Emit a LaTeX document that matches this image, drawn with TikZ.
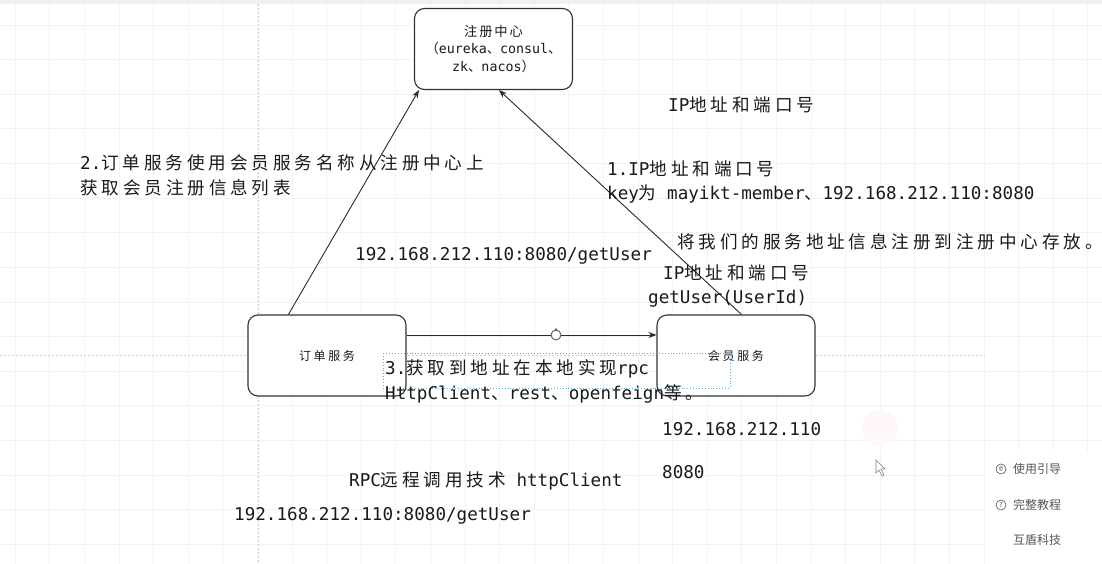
\documentclass[tikz,border=0pt]{standalone}
\usepackage{fontspec}
\setmainfont{DejaVu Sans Mono}
\newfontfamily\zh[LetterSpace=22]{Noto Sans CJK SC}
\newfontfamily\zhs[LetterSpace=14]{Noto Sans CJK SC}
\newfontfamily\zhui{Noto Sans CJK SC}
\usetikzlibrary{arrows.meta}
\definecolor{txt}{HTML}{1A1A1A}
\definecolor{boxc}{HTML}{333333}
\definecolor{linec}{HTML}{2A2A2A}
\definecolor{gridc}{HTML}{F3F3F3}
\definecolor{pagec}{HTML}{D0D0D0}
\definecolor{selc}{HTML}{5AAFD6}
\definecolor{uic}{HTML}{555555}
\tikzset{
  boxnode/.style={draw=boxc, line width=1.1pt, rounded corners=10pt, fill=white,
    minimum width=158pt, minimum height=81pt, inner sep=0pt, text=txt,
    font=\fontsize{12}{17.5}\selectfont, align=center},
  big/.style={font=\fontsize{17.6}{24.5}\selectfont, text=txt, inner sep=0pt, anchor=west, align=left},
  conn/.style={draw=linec, line width=0.9pt, -{Stealth[length=8pt,width=6pt]}},
  uitext/.style={font=\zhui\fontsize{12}{14}\selectfont, text=uic, inner sep=0pt, anchor=west}
}
\begin{document}
\begin{tikzpicture}[x=1pt,y=-1pt]
\useasboundingbox (0,0) rectangle (1102,564);
\fill[white] (0,0) rectangle (1102,564);
% grid
\foreach \i in {0,...,31} { \draw[gridc, line width=0.6pt] (15+34.6*\i,0) -- (15+34.6*\i,564); }
\foreach \j in {0,...,15} { \draw[gridc, line width=0.6pt] (0,25+34.6*\j) -- (1102,25+34.6*\j); }
\fill[gray!12] (0,0) rectangle (1102,4);
% page breaks
\draw[pagec, line width=0.7pt, dash pattern=on 2pt off 2pt] (258,4) -- (258,564);
\draw[pagec, line width=0.7pt, dash pattern=on 2pt off 2pt] (0,355) -- (985,355);
% faint highlight and cursor
\fill[red!3] (880,428) circle (18);
\draw[gray, fill=white, line width=0.6pt] (876,460) -- (876,473) -- (879,470) -- (882,476) -- (884,475) -- (881,469) -- (885,469) -- cycle;

% boxes
\node[boxnode, font=\fontsize{13.3}{17.5}\selectfont] (reg) at (493.5,49) {{\zhs 注册中心}\\{\zhs （}eureka{\zhs 、}consul{\zhs 、}\\zk{\zhs 、}nacos{\zhs ）}};
\node[boxnode] (order) at (327,355.5) {{\zh 订单服务}};
\node[boxnode] (mem) at (736,355.5) {{\zh 会员服务}};

% connectors
\draw[conn] ([xshift=41pt]order.north west) -- ([xshift=5pt]reg.south west);
\draw[conn] ([xshift=85pt]mem.north west) -- ([xshift=85pt]reg.south west);
\draw[conn] ([yshift=20.5pt]order.east) -- ([yshift=20.5pt]mem.west);
\node[circle, draw=gray!80!black, fill=white, line width=1pt, minimum size=10pt, inner sep=0pt] (rot) at (556,335) {};
\fill[gray!80!black] (rot.north) circle (1.3);

% selection rectangle
\draw[selc, dotted, line width=0.9pt] (383,353) rectangle (730,388);

% texts
\node[big] (t1) at (668,105) {IP{\zh 地址和端口号}};
\node[big] (t2) at (80,175.5) {2.{\zh 订单服务使用会员服务名称从注册中心上}\\{\zh 获取会员注册信息列表}};
\node[big] (t3) at (607,182) {1.IP{\zh 地址和端口号}\\key{\zh 为} mayikt-member{\zh 、}192.168.212.110:8080};
\node[big] (t4) at (677,242) {{\zh 将我们的服务地址信息注册到注册中心存放。}};
\node[big] (t5) at (355,256) {192.168.212.110:8080/getUser};
\node[big] (t6) at (663,273) {IP{\zh 地址和端口号}};
\node[big] (t7) at (648,299) {getUser(UserId)};
\node[big] (t8) at (385,381.5) {3.{\zh 获取到地址在本地实现}rpc\\HttpClient{\zh 、}rest{\zh 、}openfeign{\zh 等。}};
\node[big] (t9) at (662,429) {192.168.212.110};
\node[big] (t10) at (662,472) {8080};
\node[big] (t11) at (349,481) {RPC{\zh 远程调用技术} httpClient};
\node[big] (t12) at (234,516) {192.168.212.110:8080/getUser};

% side panel
\fill[white] (985,452) rectangle (1102,564);
\node[circle, draw=uic, line width=0.6pt, minimum size=10pt, inner sep=0pt, font=\fontsize{6}{6}\selectfont, text=uic] (ic1) at (1001,469) {@};
\node[uitext] (u1) at (1013,469) {使用引导};
\node[circle, draw=uic, line width=0.6pt, minimum size=10pt, inner sep=0pt, font=\fontsize{7}{7}\selectfont, text=uic] (ic2) at (1001,505) {?};
\node[uitext] (u2) at (1013,505) {完整教程};
\node[uitext] (u3) at (1013,540) {互盾科技};
\end{tikzpicture}
\end{document}
